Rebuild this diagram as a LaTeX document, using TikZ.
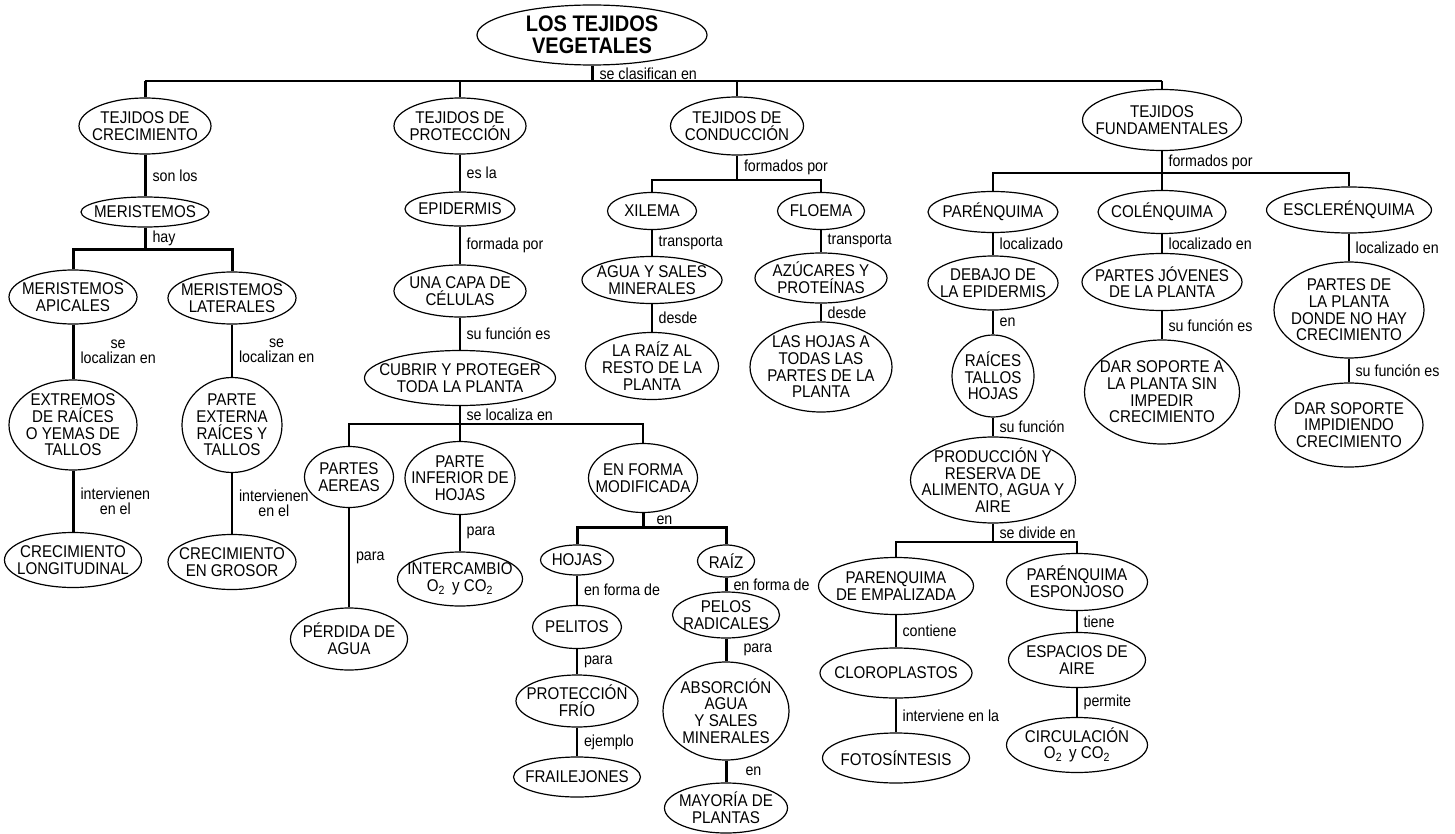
\documentclass[tikz,border=0pt]{standalone}
\usepackage{fontspec}
\setmainfont{Liberation Sans}[FakeStretch=0.89]
\usetikzlibrary{shapes.geometric}

\tikzset{
  concept/.style 2 args={ellipse, draw=black, line width=1.2pt, inner xsep=-100pt, inner ysep=-60pt,
    minimum width=#1pt, minimum height=#2pt, align=center, font=\fontsize{17}{16.7}\selectfont},
  lab/.style={anchor=west, inner sep=0pt, xshift=6pt, align=center, font=\fontsize{16}{15.5}\selectfont},
  thinline/.style={line width=1.2pt},
  midline/.style={line width=2pt},
  boldline/.style={line width=3pt},
}

\begin{document}
\begin{tikzpicture}[x=1pt,y=-1pt]
\useasboundingbox (0,0) rectangle (1455,834);

% The root
\node[concept={230}{60}, font=\fontsize{22.5}{21.5}\selectfont\bfseries] (root) at (592,35) {LOS TEJIDOS\\VEGETALES};

% The four kinds of tissue
\node[concept={132}{56}] (crec) at (145,126) {TEJIDOS DE\\CRECIMIENTO};
\node[concept={132}{56}] (prot) at (460,126) {TEJIDOS DE\\PROTECCIÓN};
\node[concept={133}{58}] (cond) at (737,126) {TEJIDOS DE\\CONDUCCIÓN};
\node[concept={159}{61}] (fund) at (1162,120) {TEJIDOS\\FUNDAMENTALES};

% Growth tissues
\node[concept={128}{30}] (meri) at (145,212) {MERISTEMOS};
\node[concept={128}{54}] (apic) at (73,297) {MERISTEMOS\\APICALES};
\node[concept={128}{52}] (late) at (232,298) {MERISTEMOS\\LATERALES};
\node[concept={128}{90}] (extr) at (73,425) {EXTREMOS\\DE RAÍCES\\O YEMAS DE\\TALLOS};
\node[concept={100}{95}] (exte) at (232,425) {PARTE\\EXTERNA\\RAÍCES Y\\TALLOS};
\node[concept={137}{55}] (long) at (73,560) {CRECIMIENTO\\LONGITUDINAL};
\node[concept={128}{55}] (gros) at (232,562) {CRECIMIENTO\\EN GROSOR};

% Protection tissues
\node[concept={110}{34}] (epid) at (460,209) {EPIDERMIS};
\node[concept={132}{52}] (capa) at (460,291) {UNA CAPA DE\\CÉLULAS};
\node[concept={191}{55}] (cubr) at (460,378) {CUBRIR Y PROTEGER\\TODA LA PLANTA};
\node[concept={89}{61}] (aere) at (349,477) {PARTES\\AEREAS};
\node[concept={110}{73}] (infe) at (460,478) {PARTE\\INFERIOR DE\\HOJAS};
\node[concept={109}{69}] (modi) at (643,478) {EN FORMA\\MODIFICADA};
\node[concept={117}{62}] (perd) at (349,639) {PÉRDIDA DE\\AGUA};
\node[concept={125}{54}] (inte) at (460,579) {INTERCAMBIO\\O\textsubscript{2}\, y CO\textsubscript{2}};
\node[concept={73}{30}] (hoja) at (577,560) {HOJAS};
\node[concept={89}{43}] (peli) at (577,627) {PELITOS};
\node[concept={122}{52}] (frio) at (577,701) {PROTECCIÓN\\FRÍO};
\node[concept={127}{40}] (frai) at (577,777) {FRAILEJONES};
\node[concept={57}{32}] (raiz) at (726,561) {RAÍZ};
\node[concept={107}{46}] (pelo) at (726,615) {PELOS\\RADICALES};
\node[concept={126}{98}] (abso) at (726,711) {ABSORCIÓN\\AGUA\\Y SALES\\MINERALES};
\node[concept={123}{50}] (mayo) at (726,808) {MAYORÍA DE\\PLANTAS};

% Conduction tissues
\node[concept={89}{37}] (xile) at (652,211) {XILEMA};
\node[concept={87}{37}] (floe) at (821,211) {FLOEMA};
\node[concept={140}{47}] (agua) at (652,280) {AGUA Y SALES\\MINERALES};
\node[concept={133}{67}] (rest) at (652,366) {LA RAÍZ AL\\RESTO DE LA\\PLANTA};
\node[concept={132}{50}] (azuc) at (821,278) {AZÚCARES Y\\PROTEÍNAS};
\node[concept={142}{90}] (todas) at (821,367) {LAS HOJAS A\\TODAS LAS\\PARTES DE LA\\PLANTA};

% Fundamental tissues
\node[concept={130}{41}] (pare) at (993,212) {PARÉNQUIMA};
\node[concept={128}{43}] (cole) at (1162,212) {COLÉNQUIMA};
\node[concept={165}{46}] (escl) at (1349,210) {ESCLERÉNQUIMA};
\node[concept={130}{54}] (deba) at (993,283) {DEBAJO DE\\LA EPIDERMIS};
\node[concept={82}{82}] (rth) at (993,376) {RAÍCES\\TALLOS\\HOJAS};
\node[concept={165}{86}] (prod) at (993,480) {PRODUCCIÓN Y\\RESERVA DE\\ALIMENTO, AGUA Y\\AIRE};
\node[concept={160}{57}] (jove) at (1162,282) {PARTES JÓVENES\\DE LA PLANTA};
\node[concept={155}{104}] (sopo) at (1162,392) {DAR SOPORTE A\\LA PLANTA SIN\\IMPEDIR\\CRECIMIENTO};
\node[concept={150}{96}] (donde) at (1349,310) {PARTES DE\\LA PLANTA\\DONDE NO HAY\\CRECIMIENTO};
\node[concept={148}{84}] (impi) at (1349,425) {DAR SOPORTE\\IMPIDIENDO\\CRECIMIENTO};
\node[concept={155}{57}] (empa) at (896,586) {PARENQUIMA\\DE EMPALIZADA};
\node[concept={152}{50}] (clor) at (896,673) {CLOROPLASTOS};
\node[concept={147}{50}] (foto) at (896,758) {FOTOSÍNTESIS};
\node[concept={141}{57}] (espo) at (1077,582) {PARÉNQUIMA\\ESPONJOSO};
\node[concept={137}{55}] (espa) at (1077,660) {ESPACIOS DE\\AIRE};
\node[concept={141}{55}] (circ) at (1077,745) {CIRCULACIÓN\\O\textsubscript{2}\, y CO\textsubscript{2}};

% The bars
\coordinate (rootb) at (592,81);
\coordinate (hayb) at (145,250);
\coordinate (cubrb) at (460,424);
\coordinate (modib) at (643,527);
\coordinate (condb) at (737,180);
\coordinate (fundb) at (1162,173);
\coordinate (prodb) at (993,542);

% Top level
\draw[boldline] (root) -- node[lab] {se clasifican en} (rootb);
\draw[thinline] (crec |- rootb) -- (fund |- rootb);
\draw[boldline] (crec) -- (crec |- rootb);
\draw[thinline] (prot) -- (prot |- rootb);
\draw[thinline] (cond) -- (cond |- rootb);
\draw[midline] (fund) -- (fund |- rootb);

% Growth links
\draw[boldline] (crec) -- node[lab] {son los} (meri);
\draw[boldline] (meri) -- node[lab] {hay} (hayb);
\draw[boldline] (apic) |- (hayb) -| (late);
\draw[boldline] (apic) -- node[lab] {se\\localizan en} (extr);
\draw[boldline] (extr) -- node[lab] {intervienen\\en el} (long);
\draw[midline] (late) -- node[lab] {se\\localizan en} (exte);
\draw[midline] (exte) -- node[lab] {intervienen\\en el} (gros);

% Protection links
\draw[thinline] (prot) -- node[lab] {es la} (epid);
\draw[thinline] (epid) -- node[lab] {formada por} (capa);
\draw[thinline] (capa) -- node[lab] {su función es} (cubr);
\draw[thinline] (cubr) -- node[lab] {se localiza en} (cubrb);
\draw[midline] (aere) |- (cubrb) -| (modi);
\draw[midline] (infe) -- (cubrb);
\draw[midline] (aere) -- node[lab] {para} (perd);
\draw[thinline] (infe) -- node[lab] {para} (inte);
\draw[boldline] (modi) -- node[lab, xshift=6pt] {en} (modib);
\draw[boldline] (hoja) |- (modib) -| (raiz);
\draw[midline] (hoja) -- node[lab] {en forma de} (peli);
\draw[midline] (peli) -- node[lab] {para} (frio);
\draw[midline] (frio) -- node[lab] {ejemplo} (frai);
\draw[boldline] (raiz) -- node[lab] {en forma de} (pelo);
\draw[boldline] (pelo) -- node[lab, xshift=10pt] {para} (abso);
\draw[boldline] (abso) -- node[lab, xshift=12pt] {en} (mayo);

% Conduction links
\draw[midline] (cond) -- node[lab] {formados por} (condb);
\draw[thinline] (xile) |- (condb) -| (floe);
\draw[thinline] (xile) -- node[lab] {transporta} (agua);
\draw[thinline] (agua) -- node[lab] {desde} (rest);
\draw[thinline] (floe) -- node[lab] {transporta} (azuc);
\draw[thinline] (azuc) -- node[lab] {desde} (todas);

% Fundamental links
\draw[thinline] (fund) -- node[lab] {formados por} (fundb);
\draw[thinline] (pare) |- (fundb) -| (escl);
\draw[thinline] (cole) -- (fundb);
\draw[thinline] (pare) -- node[lab] {localizado} (deba);
\draw[thinline] (deba) -- node[lab] {en} (rth);
\draw[thinline] (rth) -- node[lab] {su función} (prod);
\draw[thinline] (prod) -- node[lab] {se divide en} (prodb);
\draw[thinline] (empa) |- (prodb) -| (espo);
\draw[thinline] (empa) -- node[lab] {contiene} (clor);
\draw[thinline] (clor) -- node[lab] {interviene en la} (foto);
\draw[thinline] (espo) -- node[lab] {tiene} (espa);
\draw[thinline] (espa) -- node[lab] {permite} (circ);
\draw[thinline] (cole) -- node[lab] {localizado en} (jove);
\draw[thinline] (jove) -- node[lab] {su función es} (sopo);
\draw[thinline] (escl) -- node[lab] {localizado en} (donde);
\draw[thinline] (donde) -- node[lab] {su función es} (impi);

\end{tikzpicture}
\end{document}
